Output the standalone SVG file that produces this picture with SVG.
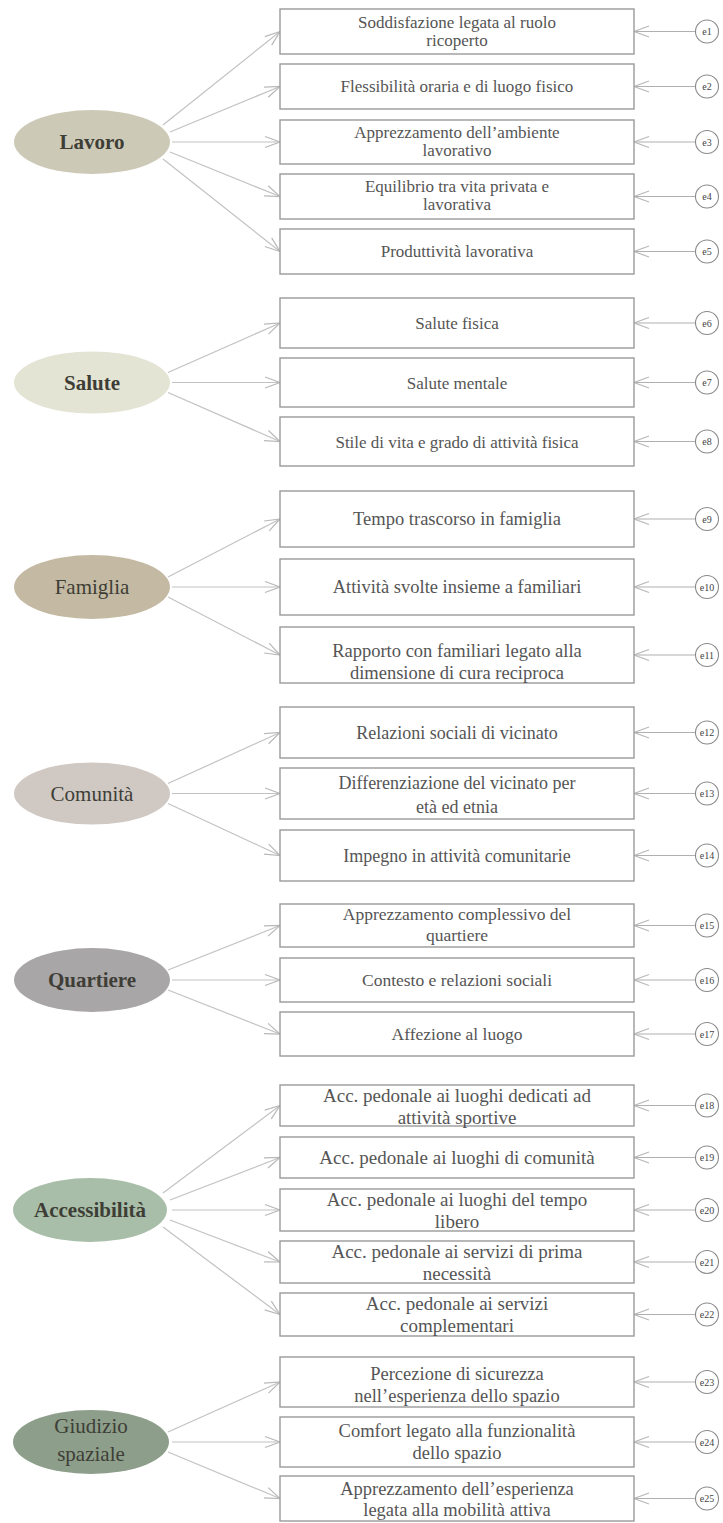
<svg xmlns="http://www.w3.org/2000/svg" width="723" height="1523" viewBox="0 0 723 1523">
<defs>
<marker id="arr" markerUnits="userSpaceOnUse" markerWidth="18" markerHeight="14" refX="16" refY="7" orient="auto">
<path d="M1,1.5 L16,7 L1,12.5" fill="none" stroke="#b8b8b8" stroke-width="1.2"/>
</marker>
<style>
.box{fill:#fff;stroke:#9a9a9a;stroke-width:1.4}
.t{font-family:"Liberation Serif",serif;fill:#555;text-anchor:middle}
.lat{font-family:"Liberation Serif",serif;fill:#3e3e36;text-anchor:middle;font-size:21px}
.conn line{stroke:#c2c2c2;stroke-width:1.2;fill:none}
.conn line.el{stroke:#b0b0b0}
.err circle{fill:#fff;stroke:#8a8a8a;stroke-width:1.1}
.et{font-family:"Liberation Serif",serif;fill:#444;font-size:10px;text-anchor:middle}
</style>
</defs>
<rect width="723" height="1523" fill="#fff"/>

<g class="conn">
<line x1="163" y1="125" x2="280" y2="31.5" marker-end="url(#arr)"/>
<line x1="170" y1="132" x2="280" y2="86.5" marker-end="url(#arr)"/>
<line x1="172" y1="142" x2="280" y2="142" marker-end="url(#arr)"/>
<line x1="170" y1="152" x2="280" y2="196.5" marker-end="url(#arr)"/>
<line x1="163" y1="159" x2="280" y2="251.5" marker-end="url(#arr)"/>
<line x1="168" y1="372.5" x2="280" y2="323" marker-end="url(#arr)"/>
<line x1="172" y1="382.5" x2="280" y2="382.5" marker-end="url(#arr)"/>
<line x1="168" y1="392.5" x2="280" y2="441.5" marker-end="url(#arr)"/>
<line x1="168" y1="577" x2="280" y2="519" marker-end="url(#arr)"/>
<line x1="172" y1="587" x2="280" y2="587" marker-end="url(#arr)"/>
<line x1="168" y1="597" x2="280" y2="655" marker-end="url(#arr)"/>
<line x1="168" y1="783.5" x2="280" y2="732.5" marker-end="url(#arr)"/>
<line x1="172" y1="793.5" x2="280" y2="793.5" marker-end="url(#arr)"/>
<line x1="168" y1="803.5" x2="280" y2="855.5" marker-end="url(#arr)"/>
<line x1="168" y1="970" x2="280" y2="925.5" marker-end="url(#arr)"/>
<line x1="172" y1="980" x2="280" y2="980" marker-end="url(#arr)"/>
<line x1="168" y1="990" x2="280" y2="1034" marker-end="url(#arr)"/>
<line x1="163" y1="1193" x2="280" y2="1105.5" marker-end="url(#arr)"/>
<line x1="170" y1="1200" x2="280" y2="1157.5" marker-end="url(#arr)"/>
<line x1="172" y1="1210" x2="280" y2="1210" marker-end="url(#arr)"/>
<line x1="170" y1="1220" x2="280" y2="1262" marker-end="url(#arr)"/>
<line x1="163" y1="1227" x2="280" y2="1314.5" marker-end="url(#arr)"/>
<line x1="168" y1="1432" x2="280" y2="1382" marker-end="url(#arr)"/>
<line x1="172" y1="1442" x2="280" y2="1442" marker-end="url(#arr)"/>
<line x1="168" y1="1452" x2="280" y2="1498.5" marker-end="url(#arr)"/>
<!-- error connectors -->
<line class="el" x1="695.5" y1="31.5" x2="634" y2="31.5" marker-end="url(#arr)"/>
<line class="el" x1="695.5" y1="86.5" x2="634" y2="86.5" marker-end="url(#arr)"/>
<line class="el" x1="695.5" y1="142" x2="634" y2="142" marker-end="url(#arr)"/>
<line class="el" x1="695.5" y1="196.5" x2="634" y2="196.5" marker-end="url(#arr)"/>
<line class="el" x1="695.5" y1="251.5" x2="634" y2="251.5" marker-end="url(#arr)"/>
<line class="el" x1="695.5" y1="323" x2="634" y2="323" marker-end="url(#arr)"/>
<line class="el" x1="695.5" y1="382.5" x2="634" y2="382.5" marker-end="url(#arr)"/>
<line class="el" x1="695.5" y1="441.5" x2="634" y2="441.5" marker-end="url(#arr)"/>
<line class="el" x1="695.5" y1="519" x2="634" y2="519" marker-end="url(#arr)"/>
<line class="el" x1="695.5" y1="587" x2="634" y2="587" marker-end="url(#arr)"/>
<line class="el" x1="695.5" y1="655" x2="634" y2="655" marker-end="url(#arr)"/>
<line class="el" x1="695.5" y1="732.5" x2="634" y2="732.5" marker-end="url(#arr)"/>
<line class="el" x1="695.5" y1="793.5" x2="634" y2="793.5" marker-end="url(#arr)"/>
<line class="el" x1="695.5" y1="855.5" x2="634" y2="855.5" marker-end="url(#arr)"/>
<line class="el" x1="695.5" y1="925.5" x2="634" y2="925.5" marker-end="url(#arr)"/>
<line class="el" x1="695.5" y1="980" x2="634" y2="980" marker-end="url(#arr)"/>
<line class="el" x1="695.5" y1="1034" x2="634" y2="1034" marker-end="url(#arr)"/>
<line class="el" x1="695.5" y1="1105.5" x2="634" y2="1105.5" marker-end="url(#arr)"/>
<line class="el" x1="695.5" y1="1157.5" x2="634" y2="1157.5" marker-end="url(#arr)"/>
<line class="el" x1="695.5" y1="1210" x2="634" y2="1210" marker-end="url(#arr)"/>
<line class="el" x1="695.5" y1="1262" x2="634" y2="1262" marker-end="url(#arr)"/>
<line class="el" x1="695.5" y1="1314.5" x2="634" y2="1314.5" marker-end="url(#arr)"/>
<line class="el" x1="695.5" y1="1382" x2="634" y2="1382" marker-end="url(#arr)"/>
<line class="el" x1="695.5" y1="1442" x2="634" y2="1442" marker-end="url(#arr)"/>
<line class="el" x1="695.5" y1="1498.5" x2="634" y2="1498.5" marker-end="url(#arr)"/>
</g>

<!-- latent ellipses -->
<g id="lavoro"><ellipse cx="92" cy="142" rx="78" ry="32" fill="#cdc9b7"/><text class="lat" x="92" y="149" font-weight="bold">Lavoro</text></g>
<g id="salute"><ellipse cx="92" cy="382.5" rx="78" ry="31" fill="#e4e4d5"/><text class="lat" x="92" y="389.5" font-weight="bold">Salute</text></g>
<g id="famiglia"><ellipse cx="92" cy="587" rx="78" ry="32" fill="#c4baa3"/><text class="lat" x="92" y="594">Famiglia</text></g>
<g id="comunita"><ellipse cx="92" cy="793.5" rx="78" ry="31" fill="#cfc8c3"/><text class="lat" x="92" y="800.5">Comunità</text></g>
<g id="quartiere"><ellipse cx="92" cy="980" rx="78" ry="32" fill="#a9a6a8"/><text class="lat" x="92" y="987" font-weight="bold">Quartiere</text></g>
<g id="accessibilita"><ellipse cx="90" cy="1210" rx="77" ry="32" fill="#a8bea9"/><text class="lat" x="90" y="1217" font-weight="bold">Accessibilità</text></g>
<g id="giudizio"><ellipse cx="91" cy="1442" rx="78" ry="32" fill="#8d9e8b"/><text class="lat" x="91" y="1433">Giudizio</text><text class="lat" x="91" y="1461">spaziale</text></g>

<!-- Lavoro indicators -->
<g id="ind1"><rect class="box" x="280" y="9" width="354" height="45"/><text class="t" font-size="17" x="457" y="28">Soddisfazione legata al ruolo</text><text class="t" font-size="17" x="457" y="46">ricoperto</text></g>
<g id="ind2"><rect class="box" x="280" y="64" width="354" height="45"/><text class="t" font-size="17" x="457" y="92">Flessibilità oraria e di luogo fisico</text></g>
<g id="ind3"><rect class="box" x="280" y="120" width="354" height="44"/><text class="t" font-size="17" x="457" y="138">Apprezzamento dell’ambiente</text><text class="t" font-size="17" x="457" y="156">lavorativo</text></g>
<g id="ind4"><rect class="box" x="280" y="174" width="354" height="45"/><text class="t" font-size="17" x="457" y="192">Equilibrio tra vita privata e</text><text class="t" font-size="17" x="457" y="210">lavorativa</text></g>
<g id="ind5"><rect class="box" x="280" y="229" width="354" height="45"/><text class="t" font-size="17" x="457" y="257">Produttività lavorativa</text></g>

<!-- Salute -->
<g id="ind6"><rect class="box" x="280" y="298" width="354" height="50"/><text class="t" font-size="17" x="457" y="329">Salute fisica</text></g>
<g id="ind7"><rect class="box" x="280" y="358" width="354" height="49"/><text class="t" font-size="17" x="457" y="388.5">Salute mentale</text></g>
<g id="ind8"><rect class="box" x="280" y="417" width="354" height="49"/><text class="t" font-size="17" x="457" y="447.5">Stile di vita e grado di attività fisica</text></g>

<!-- Famiglia -->
<g id="ind9"><rect class="box" x="280" y="491" width="354" height="56"/><text class="t" font-size="18.5" x="457" y="525">Tempo trascorso in famiglia</text></g>
<g id="ind10"><rect class="box" x="280" y="559" width="354" height="56"/><text class="t" font-size="18.5" x="457" y="593">Attività svolte insieme a familiari</text></g>
<g id="ind11"><rect class="box" x="280" y="627" width="354" height="56"/><text class="t" font-size="18.5" x="457" y="657">Rapporto con familiari legato alla</text><text class="t" font-size="18.5" x="457" y="679">dimensione di cura reciproca</text></g>

<!-- Comunità -->
<g id="ind12"><rect class="box" x="280" y="707" width="354" height="51"/><text class="t" font-size="18" x="457" y="738.5">Relazioni sociali di vicinato</text></g>
<g id="ind13"><rect class="box" x="280" y="768" width="354" height="51"/><text class="t" font-size="18" x="457" y="789">Differenziazione del vicinato per</text><text class="t" font-size="18" x="457" y="813">età ed etnia</text></g>
<g id="ind14"><rect class="box" x="280" y="830" width="354" height="51"/><text class="t" font-size="18" x="457" y="861.5">Impegno in attività comunitarie</text></g>

<!-- Quartiere -->
<g id="ind15"><rect class="box" x="280" y="904" width="354" height="43"/><text class="t" font-size="17.5" x="457" y="920">Apprezzamento complessivo del</text><text class="t" font-size="17.5" x="457" y="941">quartiere</text></g>
<g id="ind16"><rect class="box" x="280" y="958" width="354" height="44"/><text class="t" font-size="17.5" x="457" y="986">Contesto e relazioni sociali</text></g>
<g id="ind17"><rect class="box" x="280" y="1012" width="354" height="44"/><text class="t" font-size="17.5" x="457" y="1040">Affezione al luogo</text></g>

<!-- Accessibilità -->
<g id="ind18"><rect class="box" x="280" y="1085" width="354" height="41"/><text class="t" font-size="19" x="457" y="1102">Acc. pedonale ai luoghi dedicati ad</text><text class="t" font-size="19" x="457" y="1124">attività sportive</text></g>
<g id="ind19"><rect class="box" x="280" y="1137" width="354" height="41"/><text class="t" font-size="19" x="457" y="1163.5">Acc. pedonale ai luoghi di comunità</text></g>
<g id="ind20"><rect class="box" x="280" y="1189" width="354" height="42"/><text class="t" font-size="19" x="457" y="1206">Acc. pedonale ai luoghi del tempo</text><text class="t" font-size="19" x="457" y="1228">libero</text></g>
<g id="ind21"><rect class="box" x="280" y="1241" width="354" height="42"/><text class="t" font-size="19" x="457" y="1258">Acc. pedonale ai servizi di prima</text><text class="t" font-size="19" x="457" y="1280">necessità</text></g>
<g id="ind22"><rect class="box" x="280" y="1293" width="354" height="43"/><text class="t" font-size="19" x="457" y="1310">Acc. pedonale ai servizi</text><text class="t" font-size="19" x="457" y="1332">complementari</text></g>

<!-- Giudizio spaziale -->
<g id="ind23"><rect class="box" x="280" y="1357" width="354" height="50"/><text class="t" font-size="18.5" x="457" y="1380">Percezione di sicurezza</text><text class="t" font-size="18.5" x="457" y="1402">nell’esperienza dello spazio</text></g>
<g id="ind24"><rect class="box" x="280" y="1417" width="354" height="50"/><text class="t" font-size="18.5" x="457" y="1437">Comfort legato alla funzionalità</text><text class="t" font-size="18.5" x="457" y="1459">dello spazio</text></g>
<g id="ind25"><rect class="box" x="280" y="1476" width="354" height="45"/><text class="t" font-size="18.5" x="457" y="1495">Apprezzamento dell’esperienza</text><text class="t" font-size="18.5" x="457" y="1516">legata alla mobilità attiva</text></g>

<!-- error terms -->
<g class="err">
<g id="e1"><circle cx="707" cy="31.5" r="11.5"/><text class="et" x="707" y="35">e1</text></g>
<g id="e2"><circle cx="707" cy="86.5" r="11.5"/><text class="et" x="707" y="90">e2</text></g>
<g id="e3"><circle cx="707" cy="142" r="11.5"/><text class="et" x="707" y="145.5">e3</text></g>
<g id="e4"><circle cx="707" cy="196.5" r="11.5"/><text class="et" x="707" y="200">e4</text></g>
<g id="e5"><circle cx="707" cy="251.5" r="11.5"/><text class="et" x="707" y="255">e5</text></g>
<g id="e6"><circle cx="707" cy="323" r="11.5"/><text class="et" x="707" y="326.5">e6</text></g>
<g id="e7"><circle cx="707" cy="382.5" r="11.5"/><text class="et" x="707" y="386">e7</text></g>
<g id="e8"><circle cx="707" cy="441.5" r="11.5"/><text class="et" x="707" y="445">e8</text></g>
<g id="e9"><circle cx="707" cy="519" r="11.5"/><text class="et" x="707" y="522.5">e9</text></g>
<g id="e10"><circle cx="707" cy="587" r="11.5"/><text class="et" x="707" y="590.5">e10</text></g>
<g id="e11"><circle cx="707" cy="655" r="11.5"/><text class="et" x="707" y="658.5">e11</text></g>
<g id="e12"><circle cx="707" cy="732.5" r="11.5"/><text class="et" x="707" y="736">e12</text></g>
<g id="e13"><circle cx="707" cy="793.5" r="11.5"/><text class="et" x="707" y="797">e13</text></g>
<g id="e14"><circle cx="707" cy="855.5" r="11.5"/><text class="et" x="707" y="859">e14</text></g>
<g id="e15"><circle cx="707" cy="925.5" r="11.5"/><text class="et" x="707" y="929">e15</text></g>
<g id="e16"><circle cx="707" cy="980" r="11.5"/><text class="et" x="707" y="983.5">e16</text></g>
<g id="e17"><circle cx="707" cy="1034" r="11.5"/><text class="et" x="707" y="1037.5">e17</text></g>
<g id="e18"><circle cx="707" cy="1105.5" r="11.5"/><text class="et" x="707" y="1109">e18</text></g>
<g id="e19"><circle cx="707" cy="1157.5" r="11.5"/><text class="et" x="707" y="1161">e19</text></g>
<g id="e20"><circle cx="707" cy="1210" r="11.5"/><text class="et" x="707" y="1213.5">e20</text></g>
<g id="e21"><circle cx="707" cy="1262" r="11.5"/><text class="et" x="707" y="1265.5">e21</text></g>
<g id="e22"><circle cx="707" cy="1314.5" r="11.5"/><text class="et" x="707" y="1318">e22</text></g>
<g id="e23"><circle cx="707" cy="1382" r="11.5"/><text class="et" x="707" y="1385.5">e23</text></g>
<g id="e24"><circle cx="707" cy="1442" r="11.5"/><text class="et" x="707" y="1445.5">e24</text></g>
<g id="e25"><circle cx="707" cy="1498.5" r="11.5"/><text class="et" x="707" y="1502">e25</text></g>
</g>
</svg>
